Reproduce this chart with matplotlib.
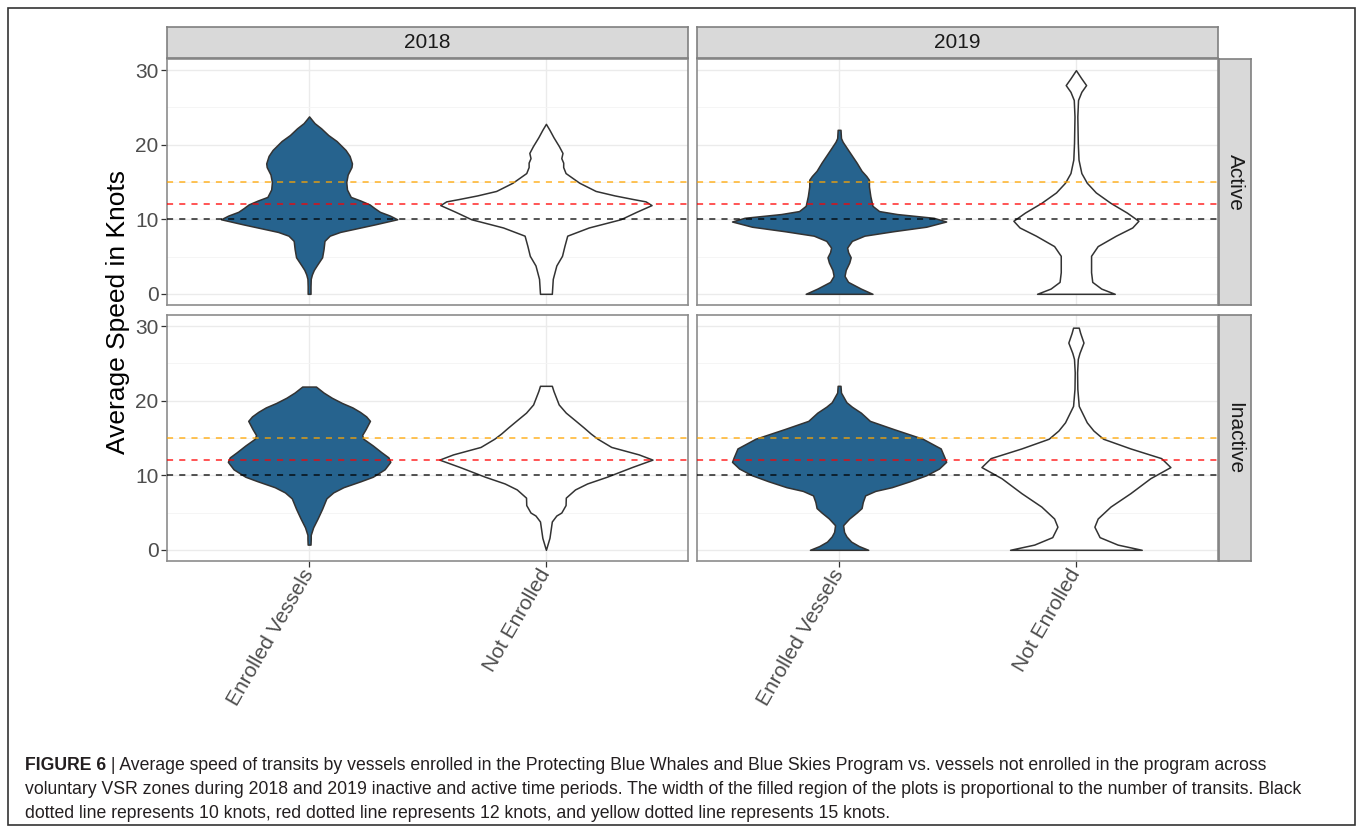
import matplotlib
matplotlib.use("Agg")
import matplotlib.pyplot as plt
from matplotlib.patches import Rectangle

plt.rcParams['font.family'] = ['Liberation Sans', 'DejaVu Sans']

# facets and groups
years = ['2018', '2019']
periods = ['Active', 'Inactive']
groups = ['Enrolled Vessels', 'Not Enrolled']
speed_refs = [15, 12, 10]          # knots: yellow, red, black

# violin outlines: speed (knots) and half width (x units)
# 2018 active
spd_18a_enr = [0, 1, 2, 2.6, 3.2, 3.8, 4.9, 6.0, 7.1, 7.8, 8.3, 8.7, 9.3, 10, 10.5, 11, 11.5, 12, 12.5,
               13, 14, 15, 16, 17, 17.5, 18.5, 19.3, 20.5, 21.3, 22.2, 22.9, 23.8]
hw_18a_enr = [.006, .006, .007, .012, .020, .032, .055, .061, .065, .087, .131, .189, .276, .372, .341,
              .299, .276, .255, .218, .176, .160, .157, .163, .179, .181, .171, .154, .116, .081, .051,
              .023, 0]
spd_18a_not = [0, 2.0, 3.8, 5.1, 6.4, 7.8, 8.9, 10, 11, 11.9, 12.4, 12.7, 13.2, 13.8, 14.9, 16.2, 17,
               17.6, 18.2, 18.9, 19.8, 21, 22, 22.8]
hw_18a_not = [.025, .029, .044, .068, .078, .090, .181, .315, .382, .446, .421, .370, .290, .210, .141,
              .083, .073, .073, .065, .070, .055, .032, .015, 0]
# 2019 active
spd_19a_enr = [0, 0.7, 1.6, 2.4, 3.2, 4.2, 4.9, 5.6, 6.2, 7.1, 7.8, 8.4, 9.0, 9.7, 10.2, 10.7, 11.1,
               11.8, 13.1, 14.4, 15.3, 15.8, 16.5, 17.6, 19.3, 20.4, 20.9, 22]
hw_19a_enr = [.141, .092, .038, .023, .028, .043, .049, .038, .034, .054, .107, .230, .368, .452, .399,
              .245, .169, .141, .132, .126, .126, .115, .095, .074, .038, .015, .008, .006]
spd_19a_not = [0, 0.7, 1.6, 2.9, 5.1, 6.4, 7.8, 8.9, 9.8, 10.9, 12.2, 13.6, 14.9, 16.2, 18, 20.2, 23.8,
               26, 27.1, 28, 28.9, 30]
hw_19a_not = [.164, .107, .069, .064, .064, .092, .169, .238, .264, .215, .146, .084, .046, .023, .011,
              .008, .006, .009, .023, .043, .023, 0]
# 2018 inactive
spd_18i_enr = [0.7, 1.5, 2.0, 3.0, 4.2, 5.5, 6.9, 7.7, 8.4, 9.2, 9.8, 10.8, 11.8, 12.4, 13.1, 14.0,
               14.9, 15.4, 16.2, 17.3, 17.9, 18.5, 19.1, 19.7, 20.4, 21.1, 21.9]
hw_18i_enr = [.006, .007, .007, .017, .036, .055, .073, .102, .145, .218, .269, .319, .343, .335, .305,
              .269, .229, .224, .239, .257, .241, .215, .183, .139, .096, .061, .029]
spd_18i_not = [0, 1.6, 3.8, 4.6, 5.0, 6.0, 7.0, 8.1, 8.9, 9.8, 11.1, 12.1, 12.8, 13.8, 14.9, 15.6,
               16.4, 17.3, 18.4, 19.5, 21.3, 22]
hw_18i_not = [0, .015, .025, .044, .065, .083, .084, .123, .174, .257, .363, .450, .392, .276, .218,
              .189, .160, .126, .084, .054, .032, .025]
# 2019 inactive
spd_19i_enr = [0, 0.5, 1.1, 1.8, 2.4, 3.3, 4.2, 5.0, 5.6, 6.4, 7.3, 7.9, 8.4, 9.2, 10.0, 10.9, 11.8,
               12.4, 13.6, 14.9, 16.2, 17.3, 18.4, 19.2, 19.8, 21.1, 22.0]
hw_19i_enr = [.123, .084, .051, .031, .021, .017, .043, .074, .095, .100, .110, .153, .222, .299, .368,
              .422, .452, .445, .429, .353, .230, .130, .092, .054, .031, .008, .006]
spd_19i_not = [0, 0.7, 1.7, 3.1, 4.2, 5.8, 7.6, 9.6, 11.1, 12.3, 13.6, 14.9, 16.0, 17.1, 19.3, 21.6,
               23.8, 25.6, 26.4, 27.8, 29.1, 29.8]
hw_19i_not = [.278, .176, .100, .078, .092, .146, .230, .314, .399, .360, .230, .115, .074, .046, .012,
              .006, .005, .008, .015, .032, .018, .012]

violins = {
    ('2018', 'Active'): [(spd_18a_enr, hw_18a_enr), (spd_18a_not, hw_18a_not)],
    ('2019', 'Active'): [(spd_19a_enr, hw_19a_enr), (spd_19a_not, hw_19a_not)],
    ('2018', 'Inactive'): [(spd_18i_enr, hw_18i_enr), (spd_18i_not, hw_18i_not)],
    ('2019', 'Inactive'): [(spd_19i_enr, hw_19i_enr), (spd_19i_not, hw_19i_not)],
}

caption = [
    "Average speed of transits by vessels enrolled in the Protecting Blue Whales and Blue Skies Program vs. vessels not enrolled in the program across",
    "voluntary VSR zones during 2018 and 2019 inactive and active time periods. The width of the filled region of the plots is proportional to the number of transits. Black",
    "dotted line represents 10 knots, red dotted line represents 12 knots, and yellow dotted line represents 15 knots.",
]

W, H = 1358, 831
fig = plt.figure(figsize=(W / 100, H / 100), dpi=100)


def px_axes(x0, y0, x1, y1):
    return fig.add_axes([x0 / W, 1 - y1 / H, (x1 - x0) / W, (y1 - y0) / H])


col_px = [(167, 688), (697, 1218)]
row_px = [(59, 305), (315, 561)]
fill_cols = ['#26638E', 'white']
ref_cols = ['#FFA500', '#FF0000', 'black']
border = '#8C8C8C'

for r, period in enumerate(periods):
    for c, year in enumerate(years):
        ax = px_axes(col_px[c][0], row_px[r][0], col_px[c][1], row_px[r][1])
        ax.set_xlim(0.4, 2.6)
        ax.set_ylim(-1.5, 31.5)
        ax.set_yticks([0, 10, 20, 30])
        ax.set_yticks([5, 15, 25], minor=True)
        ax.set_xticks([1, 2])
        ax.grid(which='major', color='#EBEBEB', lw=1.0)
        ax.grid(which='minor', axis='y', color='#F4F4F4', lw=0.6)
        ax.tick_params(which='minor', length=0)
        ax.set_axisbelow(True)
        for s in ax.spines.values():
            s.set_color(border)
            s.set_linewidth(1.2)

        for i, (spd, hw) in enumerate(violins[(year, period)]):
            pos = i + 1
            left = [pos - w for w in hw]
            right = [pos + w for w in hw]
            ax.fill_betweenx(spd, left, right, facecolor=fill_cols[i],
                             edgecolor='#333333', lw=1.1, zorder=2)

        for v, col in zip(speed_refs, ref_cols):
            ax.axhline(v, color=col, lw=1.1, ls=(0, (4, 4)), alpha=0.85, zorder=3)

        if c == 0:
            ax.tick_params(axis='y', length=4, width=0.9, color='#333333',
                           labelsize=15, labelcolor='#4D4D4D', pad=2)
        else:
            ax.tick_params(axis='y', length=0, labelleft=False)
        if r == 1:
            ax.tick_params(axis='x', length=4, width=0.9, color='#333333', pad=3)
            ax.set_xticklabels(groups, rotation=60, ha='right', va='center',
                               rotation_mode='anchor', fontsize=15, color='#4D4D4D')
        else:
            ax.tick_params(axis='x', length=0, labelbottom=False)

        # strips
        if r == 0:
            st = px_axes(col_px[c][0], 27, col_px[c][1], 58)
            st.set_facecolor('#D9D9D9')
            st.set_xticks([])
            st.set_yticks([])
            for s in st.spines.values():
                s.set_color('#808080')
                s.set_linewidth(1.2)
            st.text(0.5, 0.5, year, transform=st.transAxes, ha='center', va='center',
                    fontsize=15, color='#1A1A1A')
        if c == 1:
            st = px_axes(1219, row_px[r][0], 1251, row_px[r][1])
            st.set_facecolor('#D9D9D9')
            st.set_xticks([])
            st.set_yticks([])
            for s in st.spines.values():
                s.set_color('#808080')
                s.set_linewidth(1.2)
            st.text(0.5, 0.5, period, transform=st.transAxes, ha='center', va='center',
                    rotation=-90, fontsize=15, color='#1A1A1A')

fig.text(118 / W, 1 - 312 / H, 'Average Speed in Knots', rotation=90, ha='center', va='center',
         fontsize=19, color='black')

# outer frame
fig.patches.append(Rectangle((8 / W, 1 - 825 / H), (1355 - 8) / W, (825 - 8) / H,
                             transform=fig.transFigure, fill=False, edgecolor='#333333', lw=1.2))

# caption
cap_size = 12.7
cap_col = '#231F20'
fig.canvas.draw()
renderer = fig.canvas.get_renderer()
t0 = fig.text(25 / W, 1 - 765 / H, 'FIGURE 6', fontsize=cap_size, fontweight='bold',
              color=cap_col, va='center', ha='left')
bb = t0.get_window_extent(renderer)
fig.text(bb.x1 / W, 1 - 765 / H, ' | ' + caption[0], fontsize=cap_size, color=cap_col,
         va='center', ha='left')
fig.text(25 / W, 1 - 789 / H, caption[1], fontsize=cap_size, color=cap_col, va='center', ha='left')
fig.text(25 / W, 1 - 813 / H, caption[2], fontsize=cap_size, color=cap_col, va='center', ha='left')

fig.savefig('out.png', dpi=100)
